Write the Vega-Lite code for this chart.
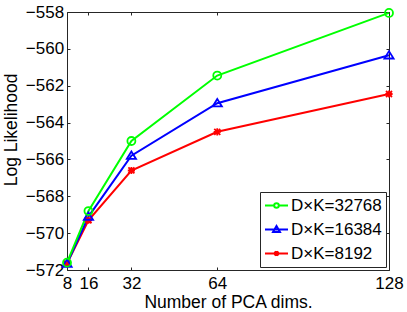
{
  "$schema": "https://vega.github.io/schema/vega-lite/v6.json",
  "width": 322,
  "height": 258,
  "autosize": {"type": "none"},
  "padding": {"left": 67, "top": 12, "right": 18, "bottom": 42},
  "background": "white",
  "config": {
    "view": {"stroke": null},
    "font": "Liberation Sans",
    "axis": {
      "grid": false,
      "domainColor": "#262626",
      "tickColor": "#262626",
      "domainWidth": 1,
      "tickWidth": 1,
      "labelFont": "Liberation Sans",
      "titleFont": "Liberation Sans",
      "labelColor": "#000000",
      "titleColor": "#000000",
      "labelFontSize": 17,
      "titleFontSize": 17.5,
      "titleFontWeight": "normal",
      "labelFlush": false,
      "labelOverlap": false
    },
    "legend": {
      "strokeColor": "#262626",
      "fillColor": "#ffffff",
      "padding": 4,
      "labelFont": "Liberation Sans",
      "labelFontSize": 17,
      "labelColor": "#000000",
      "symbolSize": 529,
      "symbolStrokeWidth": 2,
      "labelOffset": 2,
      "rowPadding": 5,
      "clipHeight": 19,
      "labelLimit": 300
    }
  },
  "data": {
    "values": [
      {"series": "D×K=8192", "dims": 8, "ll": -571.65},
      {"series": "D×K=8192", "dims": 16, "ll": -569.3},
      {"series": "D×K=8192", "dims": 32, "ll": -566.6},
      {"series": "D×K=8192", "dims": 64, "ll": -564.5},
      {"series": "D×K=8192", "dims": 128, "ll": -562.45},
      {"series": "D×K=16384", "dims": 8, "ll": -571.65},
      {"series": "D×K=16384", "dims": 16, "ll": -569.1},
      {"series": "D×K=16384", "dims": 32, "ll": -565.8},
      {"series": "D×K=16384", "dims": 64, "ll": -562.95},
      {"series": "D×K=16384", "dims": 128, "ll": -560.35},
      {"series": "D×K=32768", "dims": 8, "ll": -571.6},
      {"series": "D×K=32768", "dims": 16, "ll": -568.8},
      {"series": "D×K=32768", "dims": 32, "ll": -565.0},
      {"series": "D×K=32768", "dims": 64, "ll": -561.45},
      {"series": "D×K=32768", "dims": 128, "ll": -558.05}
    ]
  },
  "layer": [
    {
      "mark": {"type": "line", "strokeWidth": 2},
      "encoding": {
        "x": {
          "field": "dims", "type": "quantitative",
          "scale": {"domain": [8, 128], "nice": false, "zero": false},
          "axis": {
            "orient": "bottom",
            "values": [8, 16, 32, 64, 128],
            "format": "d",
            "tickSize": -3,
            "labelPadding": 21.5,
            "labelBaseline": "alphabetic",
            "labelAlign": "center",
            "title": "Number of PCA dims.",
            "titleY": 37.5,
            "titleBaseline": "alphabetic"
          }
        },
        "y": {
          "field": "ll", "type": "quantitative",
          "scale": {"domain": [-572, -558], "nice": false, "zero": false},
          "axis": {
            "orient": "left",
            "values": [-572, -570, -568, -566, -564, -562, -560, -558],
            "format": "d",
            "tickSize": -3,
            "labelPadding": 6.4,
            "title": "Log Likelihood",
            "titleX": -50.5,
            "titleY": 117.4,
            "titleAngle": -90,
            "titleAlign": "center",
            "titleBaseline": "alphabetic"
          }
        },
        "color": {
          "field": "series", "type": "nominal",
          "scale": {
            "domain": ["D×K=32768", "D×K=16384", "D×K=8192"],
            "range": ["#00ff00", "#0000ff", "#ff0000"]
          },
          "legend": {
            "title": null,
            "orient": "bottom-right",
            "offset": 3,
            "encoding": {
              "symbols": {
                "shape": {"value": {"expr": "datum.value === 'D×K=32768' ? 'M-1,0H-0.2M0.2,0H1M0.2,0A0.2,0.2,0,1,1,-0.2,0A0.2,0.2,0,1,1,0.2,0' : datum.value === 'D×K=16384' ? 'M-1,0H1M0,-0.3L0.3,0.22L-0.3,0.22Z' : 'M-1,0H1M-0.17,-0.17L0.17,0.17M-0.17,0.17L0.17,-0.17M0,-0.22V0.22'"}}
              }
            }
          }
        }
      }
    },
    {
      "transform": [{"filter": "datum.series === 'D×K=8192'"}],
      "mark": {"type": "point", "filled": false, "strokeWidth": 1.8, "size": 64, "opacity": 1, "shape": "M-0.75,-0.75L0.75,0.75M-0.75,0.75L0.75,-0.75M0,-0.9V0.9M-0.9,0H0.9"},
      "encoding": {
        "x": {"field": "dims", "type": "quantitative", "axis": null},
        "y": {"field": "ll", "type": "quantitative", "axis": null},
        "color": {"field": "series", "type": "nominal"}
      }
    },
    {
      "transform": [{"filter": "datum.series === 'D×K=16384'"}],
      "mark": {"type": "point", "filled": false, "strokeWidth": 1.8, "size": 64, "opacity": 1, "shape": "M0,-1.05L1.15,0.8L-1.15,0.8Z"},
      "encoding": {
        "x": {"field": "dims", "type": "quantitative", "axis": null},
        "y": {"field": "ll", "type": "quantitative", "axis": null},
        "color": {"field": "series", "type": "nominal"}
      }
    },
    {
      "transform": [{"filter": "datum.series === 'D×K=32768'"}],
      "mark": {"type": "point", "filled": false, "strokeWidth": 1.8, "size": 64, "opacity": 1, "shape": "circle"},
      "encoding": {
        "x": {"field": "dims", "type": "quantitative", "axis": null},
        "y": {"field": "ll", "type": "quantitative", "axis": null},
        "color": {"field": "series", "type": "nominal"}
      }
    },
    {
      "mark": {"type": "point", "opacity": 0},
      "encoding": {
        "x": {
          "field": "dims", "type": "quantitative",
          "axis": {"orient": "top", "values": [8, 16, 32, 64, 128], "labels": false, "title": null, "tickSize": -3}
        },
        "y": {
          "field": "ll", "type": "quantitative",
          "axis": {"orient": "right", "values": [-572, -570, -568, -566, -564, -562, -560, -558], "labels": false, "title": null, "tickSize": -3}
        }
      }
    }
  ],
  "resolve": {"axis": {"x": "independent", "y": "independent"}}
}
